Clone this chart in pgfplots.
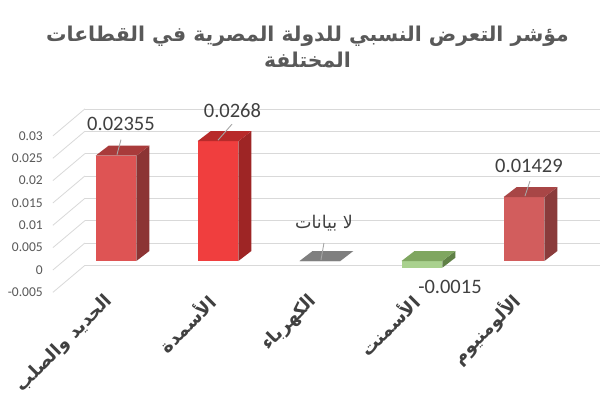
\documentclass[border=0pt]{standalone}
\usepackage{pgfplots}
\pgfplotsset{compat=1.18}
\usepackage{fontspec}
\setmainfont{Carlito}
\newfontfamily\arabicfont[Script=Arabic]{DejaVu Sans}
\TeXXeTstate=1

\definecolor{titlec}{HTML}{595959}
\definecolor{tickc}{HTML}{595959}
\definecolor{labc}{HTML}{404040}
\definecolor{gridc}{HTML}{D9D9D9}
\definecolor{leadc}{HTML}{A6A6A6}
\definecolor{aF}{HTML}{DE5454}\definecolor{aT}{HTML}{A93B3B}\definecolor{aS}{HTML}{8C3434}
\definecolor{bF}{HTML}{F03E3E}\definecolor{bT}{HTML}{B82A2A}\definecolor{bS}{HTML}{9E2525}
\definecolor{cT}{HTML}{7F7F7F}
\definecolor{dF}{HTML}{A9D18E}\definecolor{dT}{HTML}{7FA660}\definecolor{dS}{HTML}{5F8046}
\definecolor{eF}{HTML}{D25D5D}\definecolor{eT}{HTML}{A84646}\definecolor{eS}{HTML}{8A3B3B}

\newcommand{\sideface}[4]{\fill[#4] (axis cs:#1,#2) -- (axis cs:#1,#3) -- ([shift={(13pt,10pt)}]axis cs:#1,#3) -- ([shift={(13pt,10pt)}]axis cs:#1,#2) -- cycle;}
\newcommand{\topface}[4]{\fill[#4] (axis cs:#1,#3) -- (axis cs:#2,#3) -- ([shift={(13pt,10pt)}]axis cs:#2,#3) -- ([shift={(13pt,10pt)}]axis cs:#1,#3) -- cycle;}
\newcommand{\gridline}[1]{\draw[gridc, line width=0.8pt] ([shift={(23pt,18pt)}]axis cs:-0.53,#1) -- ([shift={(23pt,18pt)}]axis cs:4.52,#1);
\draw[gridc, line width=0.8pt] ([shift={(-9pt,-9pt)}]axis cs:-0.53,#1) -- ([shift={(23pt,18pt)}]axis cs:-0.53,#1);}

\tikzset{dlab/.style={font=\fontsize{20.5}{24}\selectfont, text=labc, anchor=base, inner sep=0pt}}

\begin{document}
\begin{tikzpicture}
\useasboundingbox (0,0) rectangle (615pt,410pt);
\fill[white] (0,0) rectangle (615pt,410pt);
\node[font=\arabicfont\bfseries\fontsize{20.4}{26}\selectfont, text=titlec, align=center] at (307.5pt,363pt)
  {\beginR مؤشر التعرض النسبي للدولة المصرية في القطاعات\endR\\\beginR المختلفة\endR};
\begin{axis}[
  at={(61.9pt,126.65pt)}, anchor=south west,
  scale only axis, width=515.1pt, height=156.45pt,
  xmin=-0.53, xmax=4.52, ymin=-0.005, ymax=0.03,
  clip=false,
  axis line style={draw=none},
  major tick length=0pt,
  scaled y ticks=false,
  ytick={-0.005,0,0.005,0.01,0.015,0.02,0.025,0.03},
  yticklabels={-0.005,0,0.005,0.01,0.015,0.02,0.025,0.03},
  yticklabel style={font=\fontsize{13.5}{16}\selectfont, text=tickc, anchor=east, inner sep=0pt, xshift=-19pt, yshift=-9pt},
  xtick={0,1,2,3,4},
  xticklabels={{\beginR الحديد والصلب\endR},{\beginR الأسمدة\endR},{\beginR الكهرباء\endR},{\beginR الأسمنت\endR},{\beginR الألومنيوم\endR}},
  xticklabel style={font=\arabicfont\bfseries\fontsize{18}{20}\selectfont, text=labc, xshift=-6pt, yshift=-15pt, rotate=45, anchor=east, inner sep=0pt},
]
\gridline{-0.005}\gridline{0}\gridline{0.005}\gridline{0.01}
\gridline{0.015}\gridline{0.02}\gridline{0.025}\gridline{0.03}

% front faces (data)
\addplot[ybar, bar width=0.4, fill=aF, draw=none, nodes near coords={0.02355},
  nodes near coords style={dlab, xshift=5pt, yshift=25.7pt}] coordinates {(0,0.02355)};
\addplot[ybar, bar width=0.4, fill=bF, draw=none, nodes near coords={0.0268},
  nodes near coords style={dlab, xshift=14.5pt, yshift=24.2pt}] coordinates {(1,0.0268)};
\addplot[ybar, bar width=0.4, fill=cT, draw=none, nodes near coords={\arabicfont\beginR لا بيانات\endR},
  nodes near coords style={dlab, font=\fontsize{17.5}{20}\selectfont, xshift=4pt, yshift=33pt}] coordinates {(2,0)};
\addplot[ybar, bar width=0.4, fill=dF, draw=none, nodes near coords={-0.0015},
  nodes near coords style={dlab, xshift=28pt, yshift=-25.6pt}] coordinates {(3,-0.0015)};
\addplot[ybar, bar width=0.4, fill=eF, draw=none, nodes near coords={0.01429},
  nodes near coords style={dlab, xshift=5pt, yshift=24.2pt}] coordinates {(4,0.01429)};

% 3D faces
\sideface{0.2}{0}{0.02355}{aS}\topface{-0.2}{0.2}{0.02355}{aT}
\sideface{1.2}{0}{0.0268}{bS}\topface{0.8}{1.2}{0.0268}{bT}
\topface{1.8}{2.2}{0}{cT}
\sideface{3.2}{-0.0015}{0}{dS}\topface{2.8}{3.2}{0}{dT}
\sideface{4.2}{0}{0.01429}{eS}\topface{3.8}{4.2}{0.01429}{eT}

% leader lines
\draw[leadc, line width=0.9pt] ([shift={(1pt,1pt)}]axis cs:0,0.02355) -- ++(4pt,15pt);
\draw[leadc, line width=0.9pt] ([shift={(0pt,1pt)}]axis cs:1,0.0268) -- ++(14pt,16pt);
\draw[leadc, line width=0.9pt] ([shift={(1pt,1pt)}]axis cs:2,0) -- ++(3pt,17pt);
\draw[leadc, line width=0.9pt] ([shift={(1pt,1pt)}]axis cs:4,0.01429) -- ++(5pt,15pt);
\end{axis}
\end{tikzpicture}
\end{document}
